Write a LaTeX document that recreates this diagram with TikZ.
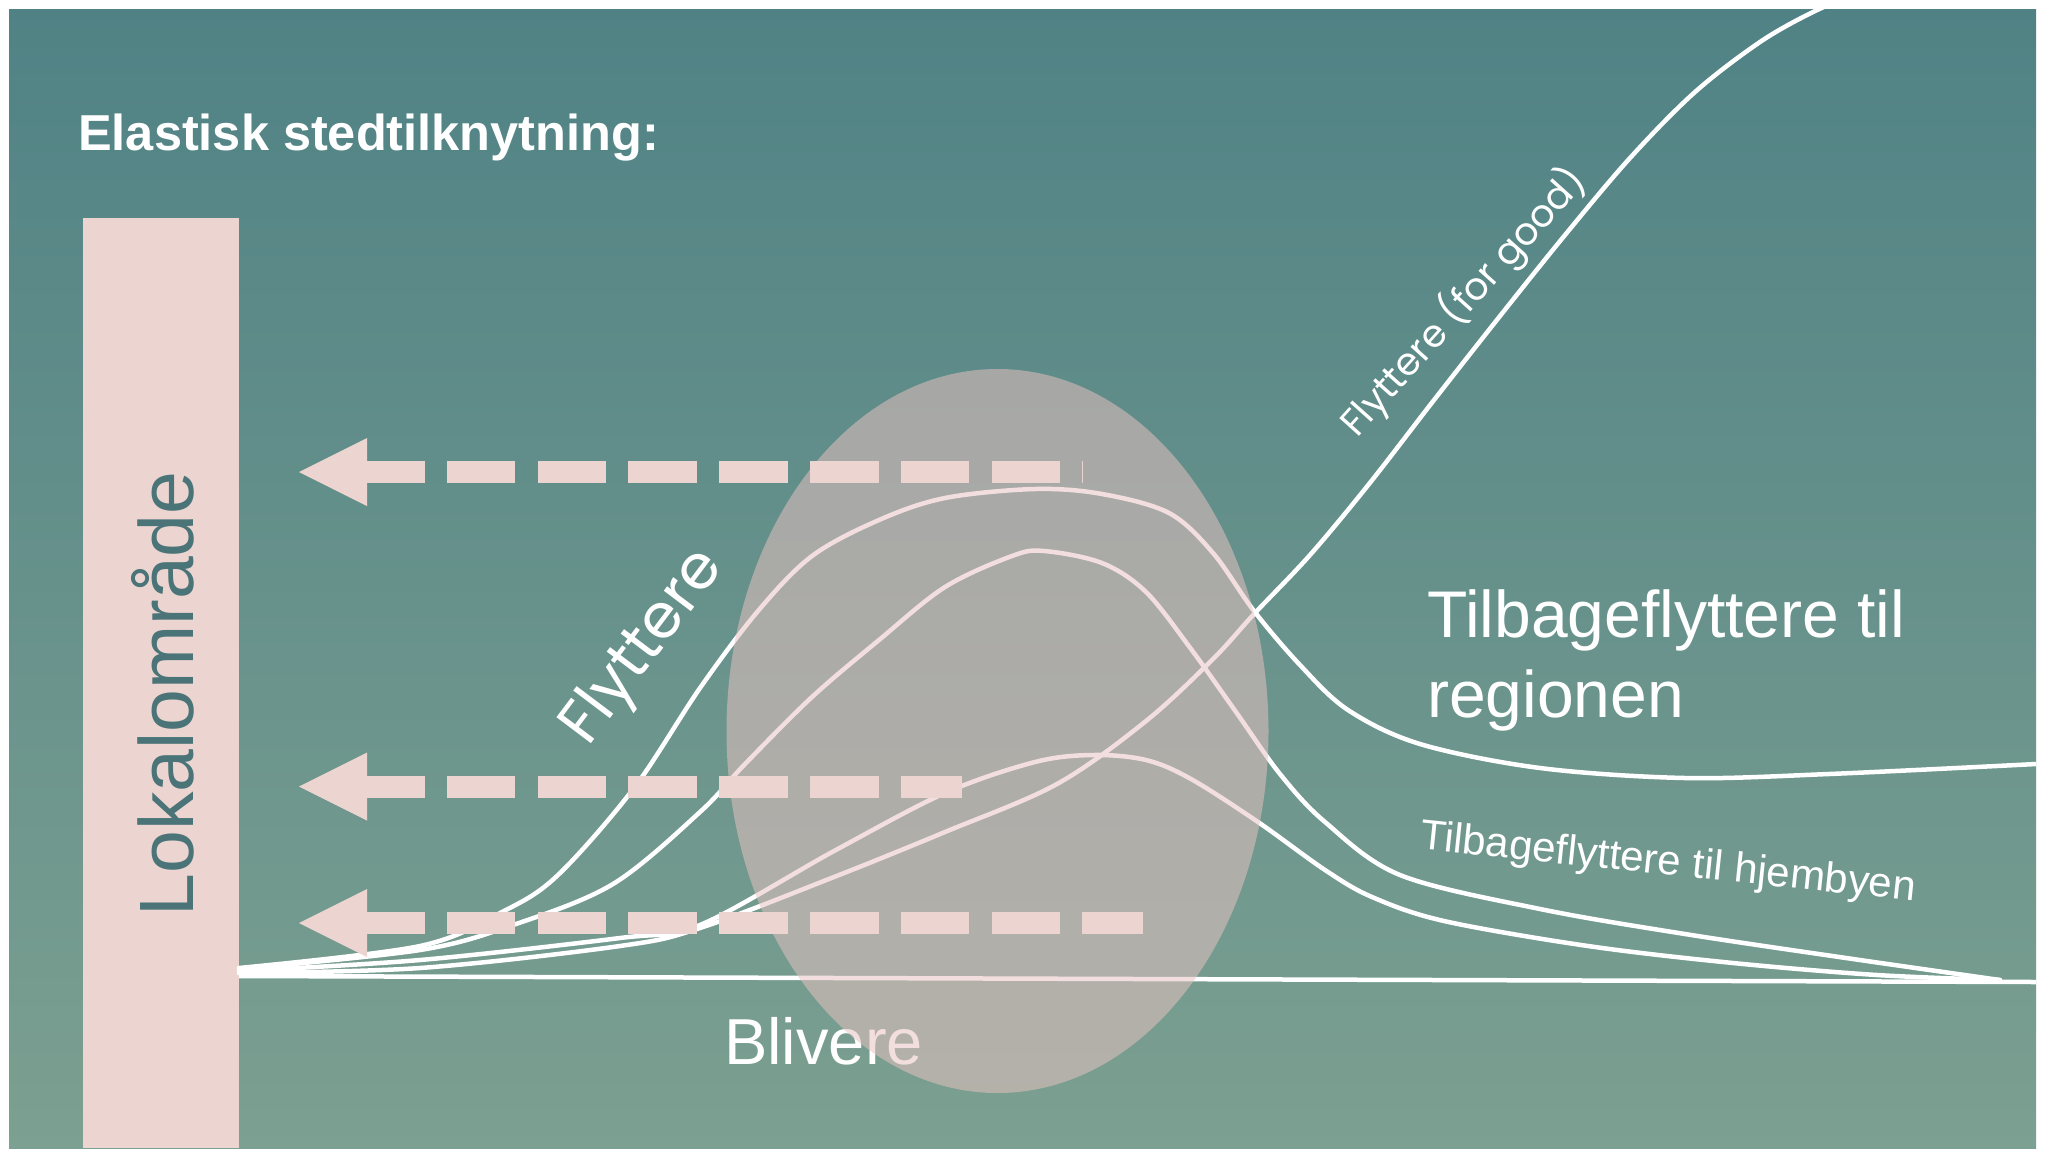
\documentclass[tikz,border=0pt]{standalone}
\usepackage{fontspec}
\setmainfont{Liberation Sans}
\newfontfamily\popfont{Poppins}
\definecolor{bgtop}{RGB}{80,130,133}
\definecolor{bgbot}{RGB}{124,160,145}
\definecolor{rose}{RGB}{236,213,209}
\definecolor{lokal}{RGB}{75,116,120}
\definecolor{ovalfill}{RGB}{232,194,193}
\begin{document}
\begin{tikzpicture}[x=1pt,y=-1pt,
  curve/.style={white, line width=4.5pt, line cap=round, line join=round},
  shaft/.style={rose, line width=22pt, dash pattern=on 68.5pt off 22.3pt},
  headtip/.style={fill=rose},
  lbl/.style={text=white, inner sep=0pt}]
\useasboundingbox (0,0) rectangle (2045,1152);
\fill[white] (0,0) rectangle (2045,1152);
\shade[top color=bgtop, bottom color=bgbot] (9,9) rectangle (2036,1148);
% bar
\node[fill=rose, draw=none, minimum width=156pt, minimum height=930pt, anchor=north west, inner sep=0pt] (bar) at (83,218) {};
\node[text=lokal, rotate=90, inner sep=0pt, font=\fontsize{77}{80}\selectfont] (lokal) at (163,694) {Lokalområde};
% title
\node[lbl, anchor=west, font=\fontsize{50.5}{58}\selectfont\bfseries] (title) at (78,138) {Elastisk stedtilknytning:};
\begin{scope}
\clip (9,9) rectangle (2036,1148);
% curves
\draw[curve] plot[smooth, tension=0.55] coordinates {(239,968) (420,946) (504,911) (558,875) (634,788) (700,688) (758,611) (812,556) (879,520) (945,498) (1035,489) (1102,494) (1169,513) (1213,553) (1254,611) (1300,665) (1348,710) (1420,744) (1540,768) (1685,778) (1829,774) (2036,764)};
\draw[curve] plot[smooth, tension=0.55] coordinates {(239,969) (420,950) (513,925) (613,884) (700,812) (745,764) (812,697) (879,640) (945,587) (1012,556) (1044,551) (1102,563) (1146,592) (1191,649) (1236,712) (1280,774) (1325,822) (1400,875) (1540,909) (1685,934) (1853,959) (2000,980)};
\draw[curve] plot[smooth, tension=0.55] coordinates {(239,971) (420,960) (620,938) (700,925) (834,851) (945,793) (1035,762) (1093,755) (1146,760) (1191,779) (1258,822) (1325,870) (1372,897) (1444,921) (1588,946) (1733,963) (1877,975) (2000,980)};
\draw[curve] plot[smooth, tension=0.55] coordinates {(239,973) (420,968) (620,946) (700,928) (834,877) (945,832) (1057,784) (1146,721) (1213,659) (1254,614) (1310,555) (1369,484) (1434,400) (1500,316) (1565,235) (1630,158) (1695,92) (1760,42) (1813,12) (1860,-8)};
\end{scope}
\coordinate (b0) at (239,976);
\coordinate (b1) at (2036,982);
\draw[white, line width=4.5pt] (b0) -- (b1);
\node[lbl, anchor=base west, font=\fontsize{65}{70}\selectfont] (blivere) at (724,1064) {Blivere};
% oval
\fill[ovalfill, fill opacity=0.53] (997.5,731) ellipse [x radius=271, y radius=362];
% dashed arrows
\foreach \n/\yy/\xe in {1/472/1083, 2/786.5/962, 3/923/1143}{
  \coordinate (t\n) at (299,\yy);
  \coordinate (s\n) at (356,\yy);
  \coordinate (e\n) at (\xe,\yy);
  \draw[shaft] (s\n) -- (e\n);
  \fill[headtip] (t\n) -- ++(68,-34) -- ++(0,68) -- cycle;
}
% labels
\node[lbl, rotate=53, font=\popfont\fontsize{62}{66}\selectfont] (flyt) at (645,648) {Flyttere};
\node[lbl, rotate=48, font=\popfont\fontsize{38}{42}\selectfont] (forgood) at (1463,302) {Flyttere (for good)};
\node[lbl, anchor=base west, align=left, font=\fontsize{66}{80}\selectfont] (region) at (1427,717) {Tilbageflyttere til\\regionen};
\node[lbl, rotate=-6, font=\fontsize{42}{46}\selectfont] (hjem) at (1668,864) {Tilbageflyttere til hjembyen};
\end{tikzpicture}
\end{document}
